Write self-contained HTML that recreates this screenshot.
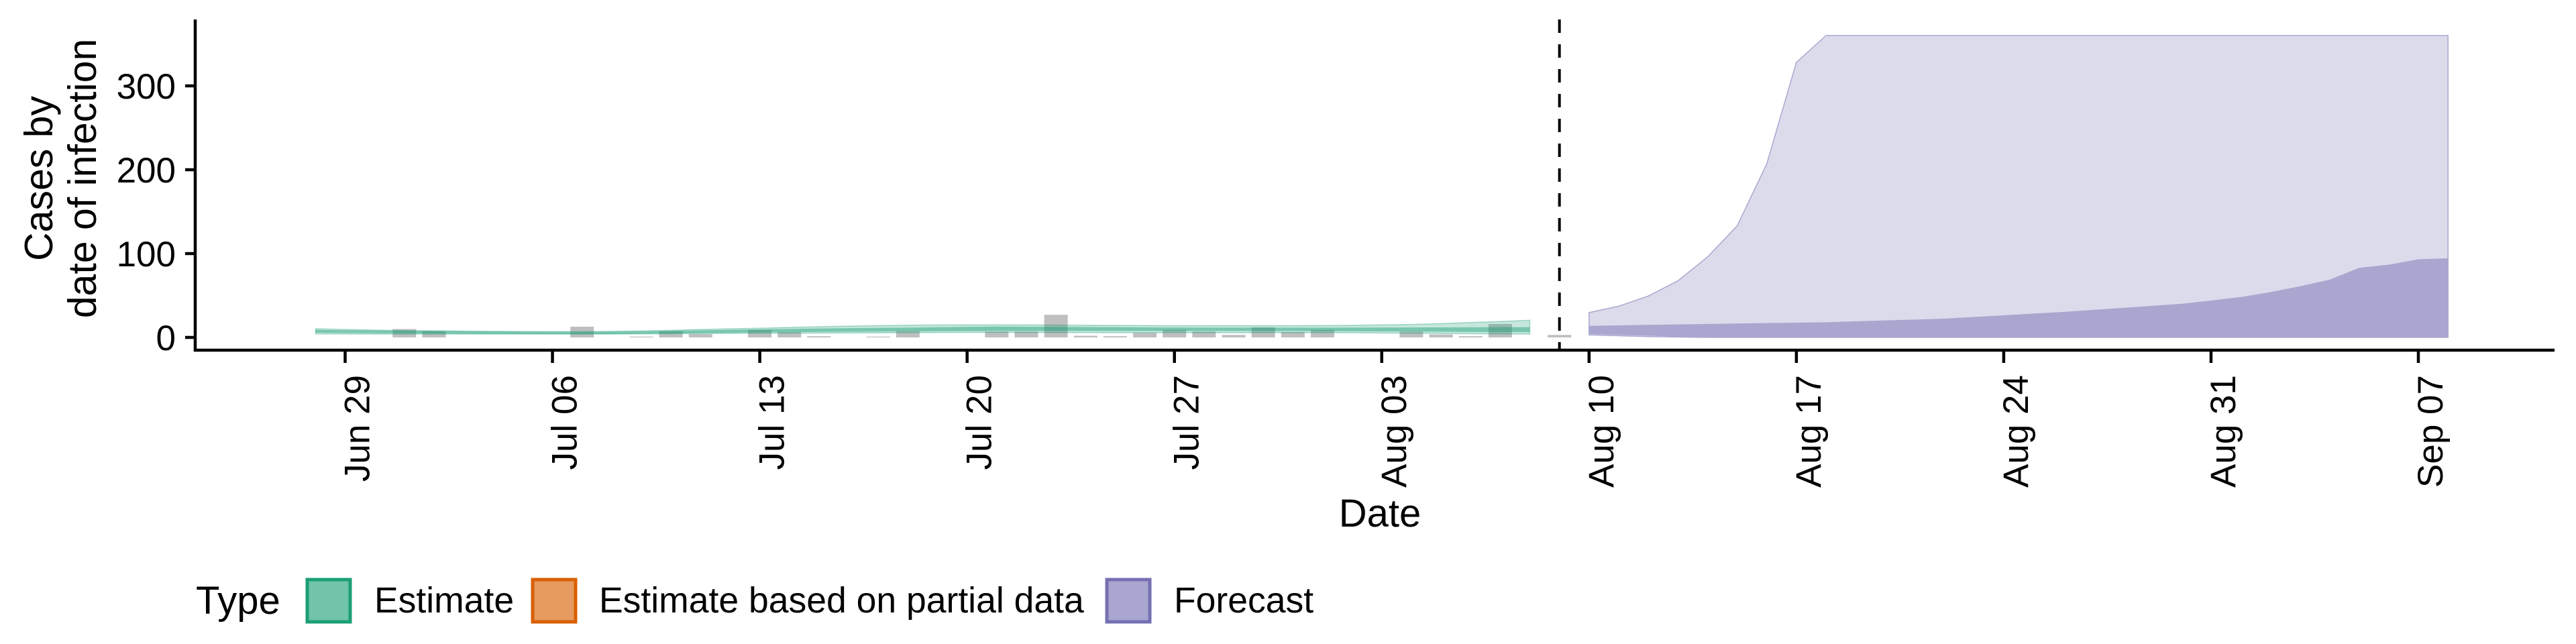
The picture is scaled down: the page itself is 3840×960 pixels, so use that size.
<!DOCTYPE html>
<html><head><meta charset="utf-8"><style>
html,body{margin:0;padding:0;background:#fff;}
svg{display:block;}
text{font-family:"Liberation Sans",Arial,sans-serif;fill:#000;}
</style></head><body>
<svg id="chart" width="3840" height="960" viewBox="0 0 3840 960" xmlns="http://www.w3.org/2000/svg">
<g id="bars"></g>
<g id="bands"></g>
<g id="fbands"></g>
<g id="axes"></g>
<text font-size="59" text-anchor="middle" transform="translate(78,266) rotate(-90)">Cases by</text>
<text font-size="59" text-anchor="middle" transform="translate(143,266) rotate(-90)">date of infection</text>
<text font-size="58" text-anchor="middle" x="2057" y="785">Date</text>
<g>
<text font-size="58" x="292" y="915">Type</text>
<rect x="458" y="864" width="64" height="63" fill="#71c3aa" stroke="#1b9e77" stroke-width="5"/>
<text font-size="53.5" x="558" y="913">Estimate</text>
<rect x="794" y="864" width="64" height="63" fill="#e69a5f" stroke="#d95f02" stroke-width="5"/>
<text font-size="53.5" x="893" y="913">Estimate based on partial data</text>
<rect x="1650" y="864" width="64" height="63" fill="#a9a6cf" stroke="#7570b3" stroke-width="5"/>
<text font-size="53.5" x="1750" y="913">Forecast</text>
</g>
</svg>
<script>
// Reported cases (day offset from Jun 29)
const barDays = [2,3,8,10,11,12,14,15,16,18,19,22,23,24,25,26,27,28,29,30,31,32,33,36,37,38,39,41];
const barValues = [10,7.5,12.8,1,7.5,4,9,6.5,1.5,1,7.5,7,7,27,2,1.5,5.5,9,7,3,12,6.5,9,7,3.5,1.5,16,3];
// Estimate bands: days -1 .. 40
const estStart = -1;
const estOuterUpper = [10.4,9.5,8.8,8.2,8,7.6,7.3,7.1,7,7,7.3,7.8,8.5,9.5,10.3,11,12,12.8,13.5,14.1,14.6,14.9,15,15,15,14.8,14.6,14.4,14.2,14,14,14,14,14,14.2,14.5,15,15.5,16.5,17.8,19,20.5];
const estOuterLower = [4.2,4.1,4,4,4,4,4,4,4,4,4.1,4.2,4.4,4.6,4.8,5,5.1,5.2,5.3,5.4,5.6,5.8,6,6,5.9,5.8,5.7,5.6,5.6,5.6,5.6,5.6,5.6,5.6,5.6,5.5,5.3,5,4.7,4.4,4.2,4];
const estInnerUpper = [9,8.6,8.2,7.9,7.6,7.3,7,6.8,6.7,6.6,6.8,7.2,7.8,8.4,9,9.6,10.2,10.7,11.1,11.4,11.7,12.2,12.6,13,12.8,12.6,12.4,12.2,12,11.8,11.7,11.6,11.6,11.6,11.6,11.7,11.8,11.9,12,12.1,12.2,12.2];
const estInnerLower = [5.6,5.4,5.1,4.9,4.6,4.4,4.2,4,3.9,3.8,4,4.4,4.8,5.2,5.6,6,6.3,6.6,6.8,7,7.2,7.4,7.6,7.7,7.7,7.7,7.7,7.7,7.7,7.7,7.7,7.7,7.7,7.6,7.5,7.4,7.2,7,6.8,6.6,6.5,6.4];
// Forecast bands: days 42 .. 71
const fcStart = 42;
const fcOuterUpper = [29.6,37.3,49.4,67.5,96,133,207,328,360,360,360,360,360,360,360,360,360,360,360,360,360,360,360,360,360,360,360,360,360,360];
const fcOuterLower = [3,2,1,0.5,0,0,0,0,0,0,0,0,0,0,0,0,0,0,0,0,0,0,0,0,0,0,0,0,0,0];
const fcInnerUpper = [13.8,14.4,15,15.5,16.1,16.6,17.1,17.6,18.1,19.2,20.3,21.3,22.4,24.4,26.4,28.4,30.4,32.8,35.2,37.6,40.1,44,48.1,54,61,68.8,83,86.7,93.2,94.4];
const fcInnerLower = [4,3,2,1,0.5,0,0,0,0,0,0,0,0,0,0,0,0,0,0,0,0,0,0,0,0,0,0,0,0,0];
const tickDays = [0,7,14,21,28,35,42,49,56,63,70];
const tickLabels = ["Jun 29","Jul 06","Jul 13","Jul 20","Jul 27","Aug 03","Aug 10","Aug 17","Aug 24","Aug 31","Sep 07"];
const yTicks = [0,100,200,300];
const forecastDay = 41;

const NS = "http://www.w3.org/2000/svg";
const X = d => 514.5 + d * 44.15;
const Y = v => 503 - v * 1.25;
function mk(tag, parent, attrs){const e=document.createElementNS(NS,tag);for(const k in attrs)e.setAttribute(k,attrs[k]);parent.appendChild(e);return e;}

const gb = document.getElementById('bars');
barDays.forEach((d,i)=>{
  const r = mk('rect', gb, {x:X(d)-17.5, y:Y(barValues[i]), width:35, height:Math.max(0,Y(0)-Y(barValues[i])), fill:'#bfbfbf'});
  
  
});

function band(parent, start, up, lo, fill, stroke, name){
  let p = '';
  up.forEach((v,i)=>{p += (i?'L':'M') + X(start+i).toFixed(1) + ',' + Y(v).toFixed(1);});
  for(let i=lo.length-1;i>=0;i--){p += 'L' + X(start+i).toFixed(1) + ',' + Y(lo[i]).toFixed(1);}
  p += 'Z';
  const e = mk('path', parent, {d:p, fill:fill, stroke:stroke, 'stroke-width':1.5});
  
  
}
const gbd = document.getElementById('bands');
band(gbd, estStart, estOuterUpper, estOuterLower, 'rgba(27,158,119,0.25)', 'rgba(27,158,119,0.35)', 'estimate-outer-band');
band(gbd, estStart, estInnerUpper, estInnerLower, 'rgba(27,158,119,0.45)', 'none', 'estimate-inner-band');
const gf = document.getElementById('fbands');
band(gf, fcStart, fcOuterUpper, fcOuterLower, '#dcdbeb', '#aaa7d0', 'forecast-outer-band');
band(gf, fcStart, fcInnerUpper, fcInnerLower, '#a9a6cf', 'none', 'forecast-inner-band');

const ga = document.getElementById('axes');
const dl = mk('line', ga, {x1:X(forecastDay), x2:X(forecastDay), y1:29, y2:522, stroke:'#000', 'stroke-width':4, 'stroke-dasharray':'20 17'});


const ya = mk('line', ga, {x1:291, x2:291, y1:29, y2:524, stroke:'#000', 'stroke-width':4.5});


const xa = mk('line', ga, {x1:289, x2:3808, y1:522, y2:522, stroke:'#000', 'stroke-width':4.5});


yTicks.forEach(v=>{
  const t = mk('line', ga, {x1:276, x2:291, y1:Y(v), y2:Y(v), stroke:'#000', 'stroke-width':4.5});
  
  
  const l = mk('text', ga, {x:262, y:Y(v)+19, 'font-size':53, 'text-anchor':'end'});
  l.textContent = v;
  
  
});
tickDays.forEach((d,i)=>{
  const t = mk('line', ga, {x1:X(d), x2:X(d), y1:522, y2:541, stroke:'#000', 'stroke-width':4.5});
  
  
  const l = mk('text', ga, {'font-size':53, 'text-anchor':'end', transform:'translate(' + (X(d)+36) + ',559) rotate(-90)'});
  l.textContent = tickLabels[i];
  
  
});
</script>
</body></html>
